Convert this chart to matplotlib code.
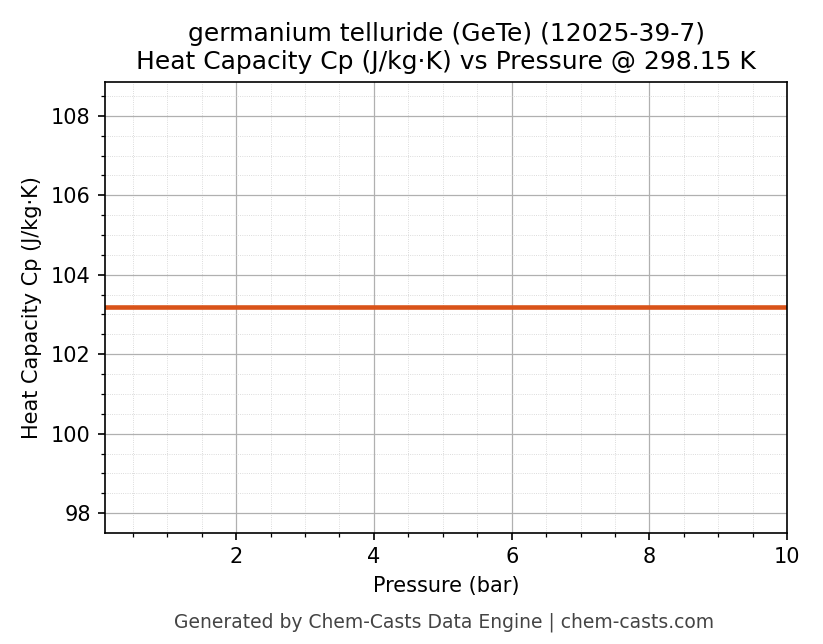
import matplotlib
matplotlib.use("Agg")
import matplotlib.pyplot as plt
from matplotlib.ticker import AutoMinorLocator

pressure = [0.1, 1.0, 2.0, 3.0, 4.0, 5.0, 6.0, 7.0, 8.0, 9.0, 10.0]
cp = [103.18] * len(pressure)

fig, ax = plt.subplots(figsize=(823 / 150, 644 / 150), dpi=150)
ax.plot(pressure, cp, color="#d95319", linewidth=2.2)
ax.set_xlim(pressure[0], pressure[-1])
ax.xaxis.set_minor_locator(AutoMinorLocator())
ax.yaxis.set_minor_locator(AutoMinorLocator())
ax.grid(which="major", color="#b0b0b0", linewidth=0.6)
ax.grid(which="minor", color="#d0d0d0", linewidth=0.4, linestyle=":")
ax.set_xlabel("Pressure (bar)")
ax.set_ylabel("Heat Capacity Cp (J/kg·K)")
ax.set_title("germanium telluride (GeTe) (12025-39-7)\nHeat Capacity Cp (J/kg·K) vs Pressure @ 298.15 K")
fig.tight_layout(rect=(0, 0.04, 1, 1))
fig.text(0.54, 0.025, "Generated by Chem-Casts Data Engine | chem-casts.com",
         ha="center", color="#444444", fontsize=9)
fig.savefig("out.png", dpi=150)
